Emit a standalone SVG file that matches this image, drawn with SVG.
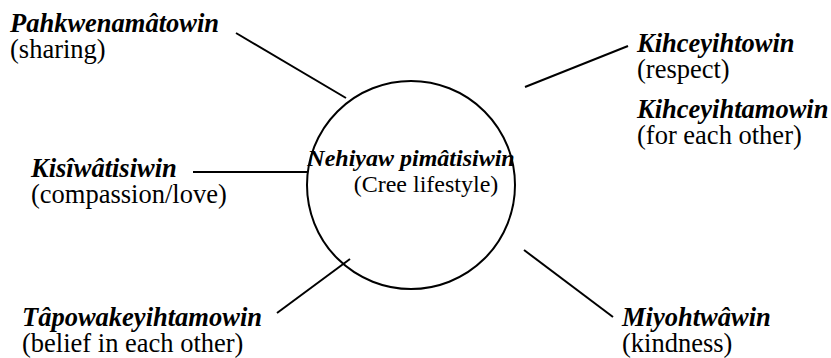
<svg xmlns="http://www.w3.org/2000/svg" width="831" height="358" viewBox="0 0 831 358">
<style>
text{font-family:"Liberation Serif","Times New Roman",serif;font-size:26.5px;fill:#000}
.b{font-weight:bold;font-style:italic}
.c{font-size:24px}
.ln{stroke:#000;stroke-width:2;fill:none}
</style>
<rect width="831" height="358" fill="#fff"/>
<g id="connectors">
<line class="ln" x1="236" y1="33" x2="346" y2="98"/>
<line class="ln" x1="628" y1="46" x2="525" y2="87"/>
<line class="ln" x1="193" y1="172" x2="308" y2="172"/>
<line class="ln" x1="277" y1="313" x2="350" y2="259"/>
<line class="ln" x1="524" y1="250" x2="613" y2="317"/>
</g>
<g id="center">
<circle class="ln" cx="411" cy="185" r="104"/>
<text x="411" y="166" text-anchor="middle" class="b c">Nehiyaw pimâtisiwin</text>
<text x="426" y="192" text-anchor="middle" class="c">(Cree lifestyle)</text>
</g>
<g id="sharing">
<text x="10" y="32" class="b">Pahkwenamâtowin</text>
<text x="10" y="58">(sharing)</text>
</g>
<g id="respect">
<text x="637" y="52" class="b">Kihceyihtowin</text>
<text x="637" y="78">(respect)</text>
</g>
<g id="foreachother">
<text x="637" y="118" class="b">Kihceyihtamowin</text>
<text x="637" y="144">(for each other)</text>
</g>
<g id="compassion">
<text x="31" y="177" class="b">Kisîwâtisiwin</text>
<text x="31" y="203">(compassion/love)</text>
</g>
<g id="belief">
<text x="22" y="326" class="b">Tâpowakeyihtamowin</text>
<text x="22" y="352">(belief in each other)</text>
</g>
<g id="kindness">
<text x="622" y="326" class="b">Miyohtwâwin</text>
<text x="622" y="352">(kindness)</text>
</g>
</svg>
